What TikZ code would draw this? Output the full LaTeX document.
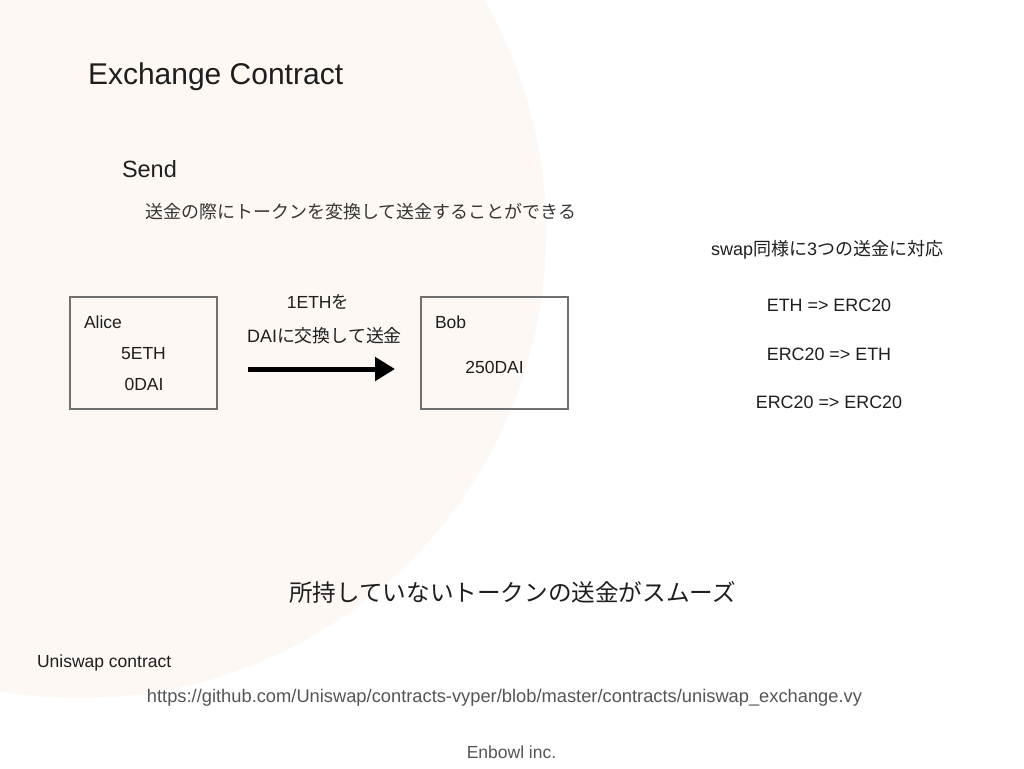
\documentclass[tikz,border=0pt]{standalone}
\usepackage{fontspec}
\setmainfont{Liberation Sans}
\newfontfamily\cjk{Noto Sans CJK JP}
\usetikzlibrary{arrows.meta}
\definecolor{bgcirc}{RGB}{253,248,244}
\definecolor{txt}{RGB}{30,30,30}
\definecolor{boxline}{RGB}{112,112,112}
\definecolor{graytxt}{RGB}{85,85,85}
\newcommand\jp[1]{{\cjk #1}}
\newcommand\fs[1]{\fontsize{#1}{#1}\selectfont}
\tikzset{
  lbl/.style={inner sep=0pt, outer sep=0pt, text=txt},
  tokenbox/.style={draw=boxline, line width=2pt, minimum width=147pt, minimum height=112pt, inner sep=0pt},
  sendarrow/.style={line width=5pt, -{Triangle[length=20pt,width=23pt]}, black}
}
\begin{document}
\begin{tikzpicture}[x=1pt,y=-1pt]
\useasboundingbox (0,0) rectangle (1024,768);
\fill[white] (0,0) rectangle (1024,768);
\begin{scope}
\clip (0,0) rectangle (1024,768);
\fill[bgcirc] (80,232) circle[radius=466pt];
\end{scope}

\node[lbl, anchor=west, font=\fs{30}] (title) at (88,77) {Exchange Contract};
\node[lbl, anchor=west, font=\fs{23.5}] (send) at (122,169) {Send};
\node[lbl, anchor=west, font=\fs{18}\cjk, text=txt!90] (desc) at (145,212) {送金の際にトークンを変換して送金することができる};

\node[tokenbox] (alice) at (143.5,353) {};
\node[tokenbox] (bob) at (494.5,353) {};

\node[lbl, anchor=west, font=\fs{17.5}] (aname) at (84,322) {Alice};
\node[lbl, font=\fs{17.5}] (aeth) at (143.5,354) {5ETH};
\node[lbl, font=\fs{17.5}] (adai) at (144,384) {0DAI};
\node[lbl, anchor=west, font=\fs{17.5}] (bname) at (435,322) {Bob};
\node[lbl, font=\fs{17.5}] (bdai) at (494.5,367) {250DAI};

\node[lbl, font=\fs{17.5}] (lab1) at (318,302) {1ETH\jp{を}};
\node[lbl, font=\fs{17.9}] (lab2) at (324.5,336) {DAI\jp{に交換して送金}};

\coordinate (arrs) at (248,369);
\coordinate (arre) at (395,369);
\draw[sendarrow] (arrs) -- (arre);

\node[lbl, anchor=west, font=\fs{18}] (swap) at (711,250) {swap\jp{同様に}3\jp{つの送金に対応}};
\node[lbl, font=\fs{17.9}] (m1) at (829,305) {ETH => ERC20};
\node[lbl, font=\fs{17.9}] (m2) at (829,354) {ERC20 => ETH};
\node[lbl, font=\fs{17.9}] (m3) at (829,402) {ERC20 => ERC20};

\node[lbl, font=\fs{23.6}\cjk] (smooth) at (512.5,592) {所持していないトークンの送金がスムーズ};
\node[lbl, anchor=west, font=\fs{17.5}] (uni) at (37,663) {Uniswap contract};
\node[lbl, font=\fs{18.3}, text=graytxt] (url) at (504.5,698) {https://github.com/Uniswap/contracts-vyper/blob/master/contracts/uniswap\_exchange.vy};
\node[lbl, font=\fs{17.5}, text=graytxt] (foot) at (511.5,752) {Enbowl inc.};
\end{tikzpicture}
\end{document}
